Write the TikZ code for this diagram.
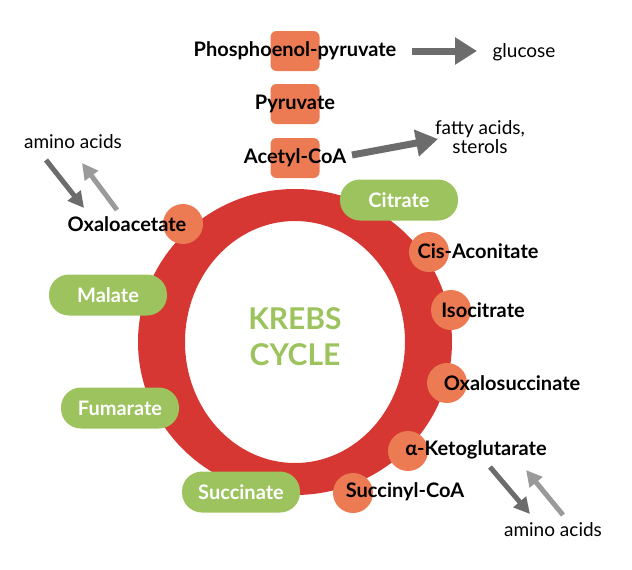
\documentclass[tikz,border=0pt]{standalone}
\usepackage{fontspec}
\setmainfont{Lato}
\usepackage{tikz}
\usetikzlibrary{arrows.meta}
\definecolor{ringred}{HTML}{D63732}
\definecolor{salmon}{HTML}{EC7A53}
\definecolor{leaf}{HTML}{9CC35D}
\definecolor{darkarr}{HTML}{6C6C6C}
\definecolor{lightarr}{HTML}{9A9A9A}
\tikzset{
  lbl/.style={font=\bfseries\fontsize{20}{22}\selectfont, text=black},
  thin lbl/.style={font=\fontsize{19}{20}\selectfont, text=black, align=center},
  box/.style={fill=salmon, rounded corners=6pt, minimum width=49pt, minimum height=40pt},
  dot/.style={circle, fill=salmon, minimum size=40pt, inner sep=0pt},
  pill/.style={fill=leaf, rounded corners=20pt, minimum width=118pt, minimum height=41pt,
    text=white, font=\bfseries\fontsize{20}{22}\selectfont},
  fat/.style={line width=7pt, -{Triangle[length=22pt,width=26pt]}},
  slim/.style={line width=5pt, -{Triangle[length=16pt,width=16pt]}},
}
\begin{document}
\begin{tikzpicture}[x=1pt,y=-1pt]
    \useasboundingbox (0,0) rectangle (632,570);
    % Ring
    \fill[ringred, even odd rule] (295,342) ellipse [x radius=157, y radius=153]
        (295,342) ellipse [x radius=110, y radius=121];
    \node[font=\bfseries\fontsize{30}{36}\selectfont, text=leaf, align=center] (title) at (295,337) {KREBS\\CYCLE};

    % Top chain
    \node[box] (pepbox) at (295,51) {};
    \node[lbl] (pep) at (295,51) {Phosphoenol-pyruvate};
    \node[box] (pyrbox) at (295,104) {};
    \node[lbl] (pyr) at (295,104) {Pyruvate};
    \node[box] (acbox) at (295,158) {};
    \node[lbl] (ac) at (295,158) {Acetyl-CoA};

    % Outputs
    \node[thin lbl] (glu) at (524,52) {glucose};
    \node[thin lbl, font=\fontsize{19}{19}\selectfont] (fat) at (480,137) {fatty acids,\\sterols};
    \coordinate (g0) at (412,51);
    \coordinate (g1) at (477,51);
    \draw[darkarr, fat] (g0) -- (g1);
    \coordinate (f0) at (352,155);
    \coordinate (f1) at (438,139);
    \draw[darkarr, fat] (f0) -- (f1);

    % Left side
    \node[dot] (oaa) at (183,224) {};
    \node[lbl] (oaatxt) at (127,224) {Oxaloacetate};
    \node[pill] (mal) at (108,295) {Malate};
    \node[pill] (fum) at (120,408) {Fumarate};
    \node[pill] (suc) at (241,492) {Succinate};

    % Right side
    \node[pill] (cit) at (399,200) {Citrate};
    \node[dot] (cis) at (429,252) {};
    \node[lbl] (cistxt) at (478,251) {Cis-Aconitate};
    \node[dot] (iso) at (451,310) {};
    \node[lbl] (isotxt) at (483,310) {Isocitrate};
    \node[dot] (oxs) at (447,383) {};
    \node[lbl] (oxstxt) at (512,383) {Oxalosuccinate};
    \node[dot] (akg) at (408,451) {};
    \node[lbl] (akgtxt) at (476,450) {α-Ketoglutarate};
    \node[dot] (sca) at (353,493) {};
    \node[lbl] (scatxt) at (405,492) {Succinyl-CoA};

    % Amino acids
    \node[thin lbl] (aa1) at (73,142) {amino acids};
    \node[thin lbl] (aa2) at (553,530) {amino acids};
    \coordinate (a1) at (46,160);  \coordinate (a2) at (84,208);
    \coordinate (a3) at (117,210); \coordinate (a4) at (82,163);
    \draw[darkarr, slim] (a1) -- (a2);
    \draw[lightarr, slim] (a3) -- (a4);
    \coordinate (b1) at (490,467); \coordinate (b2) at (530,514);
    \coordinate (b3) at (563,515); \coordinate (b4) at (526,470);
    \draw[darkarr, slim] (b1) -- (b2);
    \draw[lightarr, slim] (b3) -- (b4);
\end{tikzpicture}
\end{document}
